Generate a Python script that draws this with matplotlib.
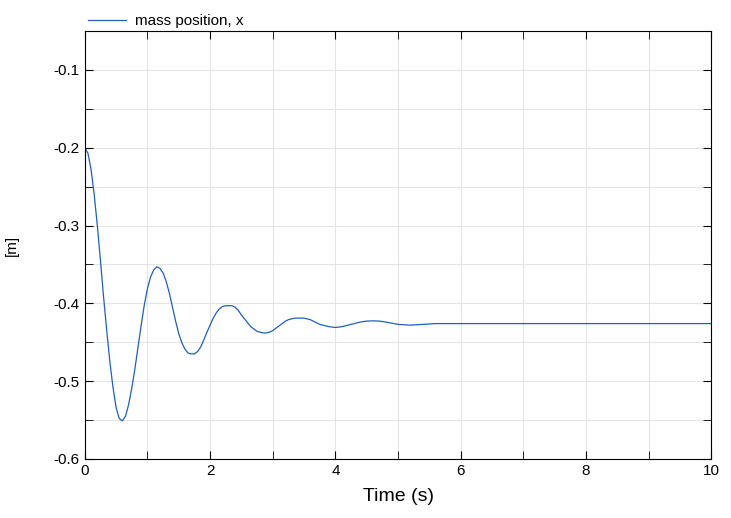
import matplotlib
matplotlib.use("Agg")
import matplotlib.pyplot as plt
from matplotlib.ticker import MultipleLocator

t = [0,0.05,0.1,0.15,0.2,0.25,0.3,0.35,0.4,0.45,0.5,0.55,0.6,0.65,0.7,0.75,0.8,0.85,0.9,0.95,
     1.0,1.05,1.1,1.15,1.2,1.25,1.3,1.35,1.4,1.45,1.5,1.55,1.6,1.65,1.7,1.75,1.8,1.85,1.9,1.95,
     2.0,2.05,2.1,2.15,2.2,2.25,2.3,2.35,2.4,2.45,2.5,2.55,2.6,2.65,2.7,2.75,2.8,2.85,2.9,2.95,
     3.0,3.05,3.1,3.15,3.2,3.25,3.3,3.35,3.4,3.45,3.5,3.55,3.6,3.65,3.7,3.75,3.8,3.9,
     4.0,4.1,4.2,4.3,4.4,4.5,4.6,4.7,4.8,4.9,5.0,5.2,5.4,5.6,5.8,6.0,10]
x = [-0.200,-0.207,-0.228,-0.260,-0.300,-0.345,-0.392,-0.435,-0.475,-0.508,-0.534,-0.548,-0.551,-0.545,-0.530,-0.509,-0.484,-0.456,-0.428,-0.402,
     -0.381,-0.366,-0.357,-0.353,-0.355,-0.361,-0.372,-0.387,-0.405,-0.423,-0.439,-0.451,-0.459,-0.464,-0.465,-0.465,-0.462,-0.456,-0.447,-0.437,
     -0.428,-0.419,-0.412,-0.407,-0.404,-0.403,-0.403,-0.403,-0.405,-0.409,-0.415,-0.420,-0.425,-0.430,-0.433,-0.436,-0.437,-0.438,-0.438,-0.437,
     -0.435,-0.432,-0.429,-0.426,-0.423,-0.421,-0.420,-0.419,-0.419,-0.419,-0.419,-0.420,-0.421,-0.423,-0.425,-0.427,-0.428,-0.430,
     -0.431,-0.430,-0.428,-0.426,-0.424,-0.4228,-0.4225,-0.4228,-0.424,-0.4255,-0.427,-0.428,-0.427,-0.426,-0.426,-0.426,-0.426]

plt.rcParams['font.family'] = ['Liberation Sans', 'DejaVu Sans']
fig = plt.figure(figsize=(7.31, 5.18), dpi=100)
ax = fig.add_axes([0.116, 0.114, 0.857, 0.826])
ax.plot(t, x, color='#1f5fbf', lw=0.9, label='mass position, x')
ax.set_xlim(0, 10)
ax.set_ylim(-0.6, -0.05)
ax.xaxis.set_major_locator(MultipleLocator(2))
ax.xaxis.set_minor_locator(MultipleLocator(1))
ax.yaxis.set_major_locator(MultipleLocator(0.1))
ax.yaxis.set_minor_locator(MultipleLocator(0.05))
ax.grid(True, which='both', color='#e4e4e4', lw=0.8)
ax.tick_params(which='both', direction='in', top=True, right=True, labelsize=11)
ax.tick_params(which='major', length=6)
ax.tick_params(which='minor', length=6)
ax.set_yticklabels([f'{v:.1f}' for v in ax.get_yticks()])
ax.set_xlabel('Time (s)', fontsize=14, labelpad=7)
ax.set_ylabel('[m]', fontsize=11, labelpad=25)
ax.legend(loc='lower left', bbox_to_anchor=(0, 1.0), frameon=False, fontsize=11,
          handlelength=2.5, borderaxespad=0, borderpad=0.2, handletextpad=0.6)
fig.savefig('out.png')
